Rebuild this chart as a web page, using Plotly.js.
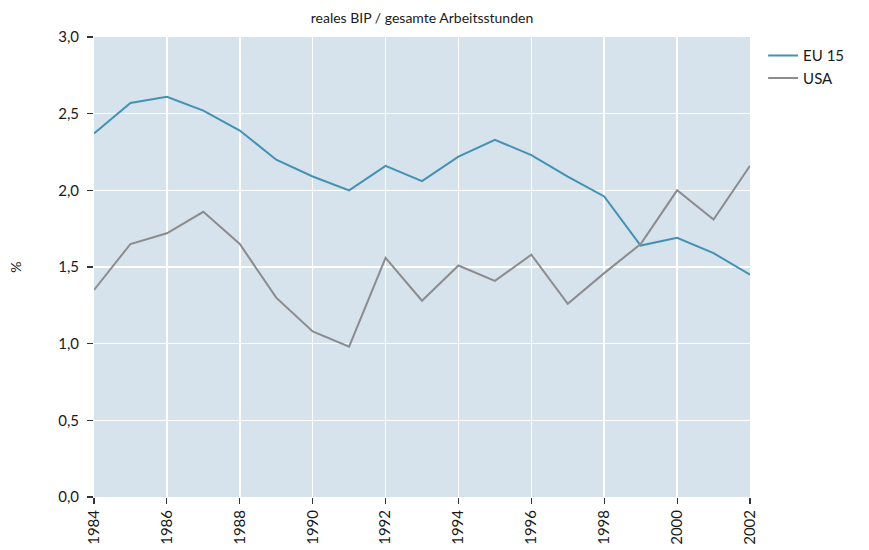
<!DOCTYPE html>
<html><head><meta charset="utf-8">
<script src="https://cdn.plot.ly/plotly-3.0.1.min.js"></script>
<style>html,body{margin:0;padding:0;background:#fff}#c{width:869px;height:550px}</style>
</head><body><div id="c"></div>
<script>
const years = [1984,1985,1986,1987,1988,1989,1990,1991,1992,1993,1994,1995,1996,1997,1998,1999,2000,2001,2002];
const eu15 = [2.37,2.57,2.61,2.52,2.39,2.20,2.09,2.00,2.16,2.06,2.22,2.33,2.23,2.09,1.96,1.64,1.69,1.59,1.45];
const usa  = [1.35,1.65,1.72,1.86,1.65,1.30,1.08,0.98,1.56,1.28,1.51,1.41,1.58,1.26,1.46,1.65,2.00,1.81,2.16];
const seriesNames = ['EU 15','USA'];
const titleText = 'reales BIP / gesamte Arbeitsstunden';
const yTitle = '%';

const F = 'Lato, "Open Sans", sans-serif';
Plotly.newPlot('c', [
  {x: years, y: eu15, name: seriesNames[0], type: 'scatter', mode: 'lines', line: {color: '#4392b3', width: 2}},
  {x: years, y: usa, name: seriesNames[1], type: 'scatter', mode: 'lines', line: {color: '#8c8c8e', width: 2}}
], {
  width: 869, height: 550,
  margin: {l: 94, r: 119, t: 37, b: 53},
  paper_bgcolor: '#ffffff', plot_bgcolor: '#d6e2ec',
  separators: ',.',
  font: {family: F, size: 15, color: '#1a1a1a'},
  title: {text: titleText, x: 0.5 * (94 + 750) / 869, xanchor: 'center', y: 0.968, yanchor: 'middle', font: {family: F, size: 14, color: '#1a1a1a'}},
  xaxis: {range: [1984, 2002], tickmode: 'linear', tick0: 1984, dtick: 2, tickangle: -90,
    ticks: 'outside', ticklen: 6, tickcolor: '#333', tickwidth: 1.2,
    showgrid: true, gridcolor: '#ffffff', gridwidth: 1.5, zeroline: false, showline: false,
    tickfont: {family: F, size: 15, color: '#1a1a1a'}},
  yaxis: {range: [0, 3], tickmode: 'linear', tick0: 0, dtick: 0.5, tickformat: '.1f',
    ticks: 'outside', ticklen: 6, tickcolor: '#333', tickwidth: 1.2, ticklabelstandoff: 5,
    showgrid: true, gridcolor: '#ffffff', gridwidth: 1.5, zeroline: false, showline: false,
    title: {text: yTitle, standoff: 33, font: {family: F, size: 14, color: '#1a1a1a'}},
    tickfont: {family: F, size: 15, color: '#1a1a1a'}},
  legend: {x: 1.02, xanchor: 'left', y: 0.995, yanchor: 'top', bgcolor: 'rgba(0,0,0,0)',
    font: {family: F, size: 15, color: '#1a1a1a'}, tracegroupgap: 0},
  showlegend: true
}, {displayModeBar: false, staticPlot: true});
</script></body></html>
